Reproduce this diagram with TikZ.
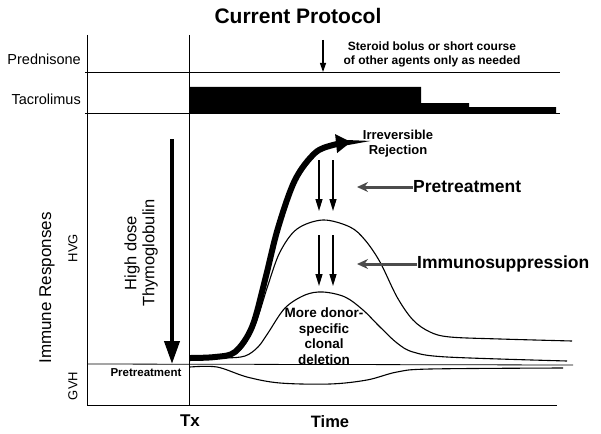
\documentclass[tikz,border=0pt]{standalone}
\usepackage{fontspec}
\setmainfont{Liberation Sans}
\usetikzlibrary{arrows.meta}
\newcommand{\fs}[1]{\fontsize{#1}{#1}\selectfont}
\begin{document}
\begin{tikzpicture}[x=1pt,y=-1pt,
  axisline/.style={line width=0.8pt},
  curve/.style={line width=1.1pt},
  downarr/.style={line width=1.3pt,-{Triangle[length=12pt,width=7pt]}},
  leftarr/.style={line width=3pt,black!70,-{Stealth[length=11pt,width=10pt]}},
  lbl/.style={inner sep=0pt}]
\useasboundingbox (0,0) rectangle (601,433);
% title
\node[lbl,font=\fs{21}\bfseries] (title) at (298,16) {Current Protocol};
% frame lines
\draw[axisline] (87,35) -- (87,405) -- (557,405);
\draw[axisline] (189,35) -- (189,405);
\draw[axisline] (85,72) -- (560,72);
\draw[axisline] (85,113) -- (560,113);
\draw[axisline] (87,364) -- (573,365);
% tacrolimus bar
\fill (189,87) -- (421,87) -- (421,103) -- (469,103) -- (469,107) -- (556,107) -- (556,113) -- (189,113) -- cycle;
% row labels
\node[lbl,anchor=east,font=\fs{14.5}] (pred) at (81,59) {Prednisone};
\node[lbl,anchor=east,font=\fs{14.5}] (tac) at (81,99) {Tacrolimus};
% steroid
\node[lbl,align=center,font=\fontsize{12}{14}\selectfont\bfseries] (ster) at (432,54) {Steroid bolus or short course\\of other agents only as needed};
\coordinate (sa) at (323,40);
\coordinate (sb) at (323,72);
\draw[line width=1.2pt,-{Triangle[length=9pt,width=6pt]}] (sa) -- (sb);
% axis labels
\node[lbl,rotate=90,font=\fs{17}] (imm) at (47,288) {Immune Responses};
\node[lbl,rotate=90,font=\fs{13}] (hvg) at (73,248) {HVG};
\node[lbl,rotate=90,font=\fs{13}] (gvh) at (73,386) {GVH};
\node[lbl,font=\fs{11.5}\bfseries] (pret) at (146,373) {Pretreatment};
\node[lbl,font=\fs{17}\bfseries] (tx) at (190,421) {Tx};
\node[lbl,font=\fs{16.5}\bfseries] (time) at (330,422) {Time};
% thymoglobulin arrow
\node[lbl,rotate=90,align=center,font=\fontsize{16.5}{18}\selectfont] (thymo) at (141,253) {High dose\\Thymoglobulin};
\coordinate (ta) at (172,139);
\coordinate (tb) at (172,364);
\draw[line width=4pt,-{Triangle[length=23pt,width=15pt]}] (ta) -- (tb);
% curves
\draw[line width=6pt,-{Triangle[length=15pt,width=18pt]}] plot[smooth,tension=0.55] coordinates {(190,358) (215,357) (235,352) (252,327) (265,280) (278,228) (295,180) (315,153) (333,145) (351,142)};
\draw[curve] plot[smooth,tension=0.55] coordinates {(190,357) (220,356) (240,350) (255,325) (268,285) (280,252) (297,229) (323,220) (350,227) (365,240) (380,262) (397,297) (413,320) (430,332) (450,337) (500,339) (572,341)};
\draw[curve] plot[smooth,tension=0.55] coordinates {(190,358) (225,358) (245,356) (258,347) (268,333) (285,308) (305,295) (323,292) (345,297) (363,310) (380,327) (397,343) (413,352) (447,357) (567,361)};
\draw[curve] plot[smooth,tension=0.55] coordinates {(190,367) (217,367) (247,377) (280,383) (330,384) (367,380) (397,372) (430,369) (563,368)};
% down arrows
\coordinate (d1a) at (319,160); \coordinate (d1b) at (319,211);
\coordinate (d2a) at (333,160); \coordinate (d2b) at (333,211);
\coordinate (d3a) at (319,235); \coordinate (d3b) at (319,286);
\coordinate (d4a) at (333,235); \coordinate (d4b) at (333,286);
\draw[downarr] (d1a) -- (d1b);
\draw[downarr] (d2a) -- (d2b);
\draw[downarr] (d3a) -- (d3b);
\draw[downarr] (d4a) -- (d4b);
% labels
\node[lbl,align=center,font=\fontsize{13}{15}\selectfont\bfseries] (irr) at (398,144) {Irreversible\\Rejection};
\node[lbl,align=center,font=\fontsize{13.5}{15.5}\selectfont\bfseries] (more) at (324,336) {More donor-\\specific\\clonal\\deletion};
\node[lbl,anchor=west,font=\fs{17.5}\bfseries] (ptx) at (413,187) {Pretreatment};
\node[lbl,anchor=west,font=\fs{17.5}\bfseries] (isup) at (417,264) {Immunosuppression};
\draw[leftarr] (ptx.west) -- (357,187);
\draw[leftarr] (isup.west) -- (357,264);
\end{tikzpicture}
\end{document}
